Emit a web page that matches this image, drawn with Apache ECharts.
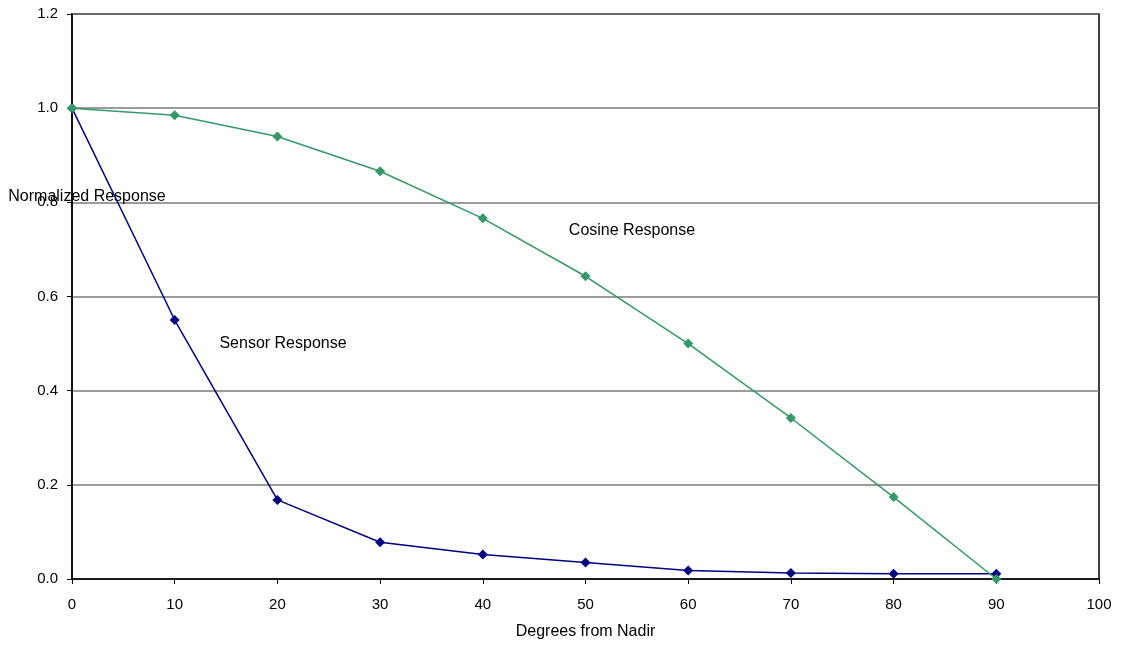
<!DOCTYPE html>
<html>
<head>
<meta charset="utf-8">
<script src="https://cdn.jsdelivr.net/npm/echarts@6/dist/echarts.min.js"></script>
<style>
html,body{margin:0;padding:0;background:#fff;}
#chart{width:1121px;height:646px;}
</style>
</head>
<body>
<div id="chart"></div>
<script>
const degrees = [0, 10, 20, 30, 40, 50, 60, 70, 80, 90];
const sensorResponse = [1.0, 0.55, 0.168, 0.078, 0.052, 0.035, 0.018, 0.013, 0.011, 0.011];
const cosineResponse = [1.0, 0.985, 0.940, 0.866, 0.766, 0.643, 0.500, 0.342, 0.174, 0.0];
const xAxisTitle = 'Degrees from Nadir';
const yAxisTitle = 'Normalized Response';
const sensorLabel = 'Sensor Response';
const cosineLabel = 'Cosine Response';

const FONT = 'Liberation Sans, Arial, sans-serif';
const chart = echarts.init(document.getElementById('chart'));

function pairs(xs, ys) { return xs.map((x, i) => [x, ys[i]]); }

chart.setOption({
  animation: false,
  backgroundColor: '#ffffff',
  grid: { left: 72, right: 22, top: 14, bottom: 67, show: true, borderColor: '#000', borderWidth: 1.5, containLabel: false },
  xAxis: {
    type: 'value', min: 0, max: 100, interval: 10,
    name: xAxisTitle, nameLocation: 'middle', nameGap: 45,
    nameTextStyle: { fontFamily: FONT, fontSize: 16, color: '#000' },
    axisLine: { show: true, onZero: false, lineStyle: { color: '#000', width: 1.5 } },
    axisTick: { show: true, inside: false, length: 5, lineStyle: { color: '#000' } },
    axisLabel: { fontFamily: FONT, fontSize: 15, color: '#000', margin: 18 },
    splitLine: { show: false }
  },
  yAxis: {
    type: 'value', min: 0, max: 1.2, interval: 0.2,
    axisLine: { show: true, lineStyle: { color: '#000', width: 1.5 } },
    axisTick: { show: true, inside: false, length: 5, lineStyle: { color: '#000' } },
    axisLabel: { fontFamily: FONT, fontSize: 15, color: '#000', margin: 14,
      formatter: v => v.toFixed(1) },
    splitLine: { show: true, lineStyle: { color: '#7a7a7a', width: 1.5 } }
  },
  series: [
    {
      name: sensorLabel, type: 'line', data: pairs(degrees, sensorResponse),
      symbol: 'diamond', symbolSize: 10, showAllSymbol: true,
      lineStyle: { color: '#000080', width: 1.5 },
      itemStyle: { color: '#000080' }, z: 3
    },
    {
      name: cosineLabel, type: 'line', data: pairs(degrees, cosineResponse),
      symbol: 'diamond', symbolSize: 10, showAllSymbol: true,
      lineStyle: { color: '#339966', width: 1.5 },
      itemStyle: { color: '#339966' }, z: 4
    }
  ],
  graphic: [
    { type: 'text', x: 87, y: 197, z: 100,
      style: { text: yAxisTitle, font: '16px ' + FONT, fill: '#000', textAlign: 'center', textVerticalAlign: 'middle' } },
    { type: 'text', x: 283, y: 344, z: 100,
      style: { text: sensorLabel, font: '16px ' + FONT, fill: '#000', textAlign: 'center', textVerticalAlign: 'middle' } },
    { type: 'text', x: 632, y: 231, z: 100,
      style: { text: cosineLabel, font: '16px ' + FONT, fill: '#000', textAlign: 'center', textVerticalAlign: 'middle' } }
  ]
});
</script>
</body>
</html>
